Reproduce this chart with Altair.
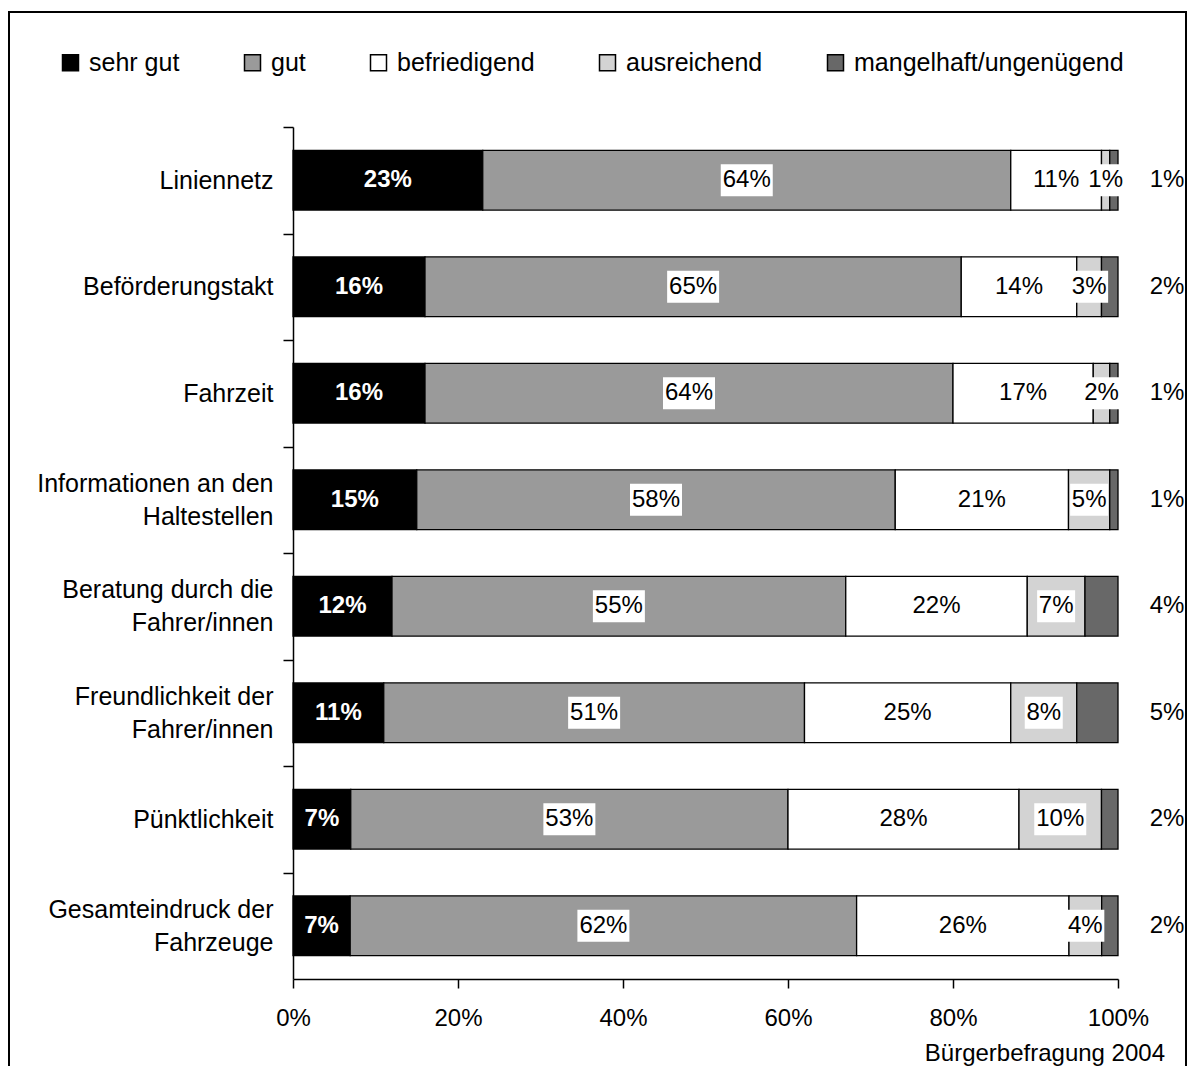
import altair as alt
import pandas as pd

# ---------------- data ----------------
categories = [
    ["Liniennetz"],
    ["Beförderungstakt"],
    ["Fahrzeit"],
    ["Informationen an den", "Haltestellen"],
    ["Beratung durch die", "Fahrer/innen"],
    ["Freundlichkeit der", "Fahrer/innen"],
    ["Pünktlichkeit"],
    ["Gesamteindruck der", "Fahrzeuge"],
]
ratings = ["sehr gut", "gut", "befriedigend", "ausreichend", "mangelhaft/ungenügend"]

sehr_gut = [23, 16, 16, 15, 12, 11, 7, 7]
gut = [64, 65, 64, 58, 55, 51, 53, 62]
befriedigend = [11, 14, 17, 21, 22, 25, 28, 26]
ausreichend = [1, 3, 2, 5, 7, 8, 10, 4]
mangelhaft = [1, 2, 1, 1, 4, 5, 2, 2]

x_ticks = [0, 20, 40, 60, 80, 100]
source_note = "Bürgerbefragung 2004"

colors = ["#000000", "#9a9a9a", "#ffffff", "#d3d3d3", "#686868"]

# ---------------- layout helpers ----------------
FONT = "Liberation Sans"
ARIAL = {
    " ": 278, "\u00a0": 278, "/": 278, "a": 556, "b": 556, "c": 500, "d": 556, "e": 556,
    "f": 278, "g": 556, "h": 556, "i": 222, "k": 500, "l": 222, "m": 833,
    "n": 556, "o": 556, "r": 333, "s": 500, "t": 278, "u": 556, "z": 500,
    "ü": 556, "ö": 556, "B": 667, "F": 611, "G": 778, "H": 722, "I": 278,
    "L": 556, "P": 667,
}


def text_w(s):
    return sum(ARIAL.get(c, 556) for c in s)


def make_label(lines):
    # Excel centres the lines of a wrapped label; pad the shorter line
    if len(lines) == 1:
        return lines[0]
    first, second = lines
    pad = round((text_w(first) - text_w(second)) / 2 / 278)
    return first + "\n" + second + "\u00a0" * max(pad, 0)


cat_labels = [make_label(c) for c in categories]
series = [sehr_gut, gut, befriedigend, ausreichend, mangelhaft]

rows = []
for i, cat in enumerate(cat_labels):
    for j, r in enumerate(ratings):
        rows.append({"cat": cat, "rating": r, "rank": j, "value": series[j][i]})
df = pd.DataFrame(rows)

W, H = 825, 852
step = H / len(cat_labels)
LINE_H = 33

base = (
    alt.Chart(df)
    .transform_joinaggregate(total="sum(value)", groupby=["cat"])
    .transform_calculate(pct="datum.value / datum.total * 100")
    .transform_stack(stack="pct", groupby=["cat"], sort=[alt.SortField("rank", order="ascending")], as_=["x0", "x1"])
    .transform_calculate(mid="(datum.x0 + datum.x1) / 2", lbl="datum.value + '%'")
)

y_enc = alt.Y(
    "cat:N",
    sort=cat_labels,
    scale=alt.Scale(paddingInner=0.44, paddingOuter=0.22),
    axis=alt.Axis(
        title=None,
        labelExpr="split(datum.label, '\\n')",
        labelFontSize=25,
        labelLineHeight=LINE_H,
        labelPadding=10,
        labelLimit=400,
        tickSize=10,
        tickOffset=-step / 2,
        labelOffset={
            "condition": {"test": "indexof(datum.value, '\\n') >= 0", "value": step / 2 - LINE_H / 2},
            "value": step / 2,
        },
        labelAlign="right",
        labelBaseline="middle",
    ),
)

x_scale = alt.Scale(domain=[0, 100], nice=False)

bars = base.mark_bar(stroke="black", strokeWidth=1.3).encode(
    x=alt.X(
        "x0:Q",
        scale=x_scale,
        axis=alt.Axis(
            title=None,
            values=x_ticks,
            labelExpr="datum.value + '%'",
            labelFontSize=24,
            tickSize=9,
            labelPadding=18,
            labelFlush=False,
        ),
    ),
    x2="x1:Q",
    y=y_enc,
    color=alt.Color(
        "rating:N",
        scale=alt.Scale(domain=ratings, range=colors),
        legend=alt.Legend(title=None),
    ),
    order=alt.Order("rank:Q"),
)

boxes = (
    base.transform_filter("datum.rank == 1 || datum.rank == 3")
    .transform_calculate(
        boxshape="length(datum.lbl) > 2 ? 'M-1,-0.615H1V0.615H-1Z' : 'M-1,-0.842H1V0.842H-1Z'",
        boxsize="length(datum.lbl) > 2 ? 2704 : 1444",
    )
    .mark_point(filled=True, color="white", opacity=1, strokeWidth=0)
    .encode(
        x=alt.X("mid:Q", scale=x_scale),
        y=alt.Y("cat:N", sort=cat_labels),
        shape=alt.Shape("boxshape:N", scale=None),
        size=alt.Size("boxsize:Q", scale=None),
    )
)

t_sg = (
    base.transform_filter("datum.rank == 0")
    .mark_text(color="white", fontWeight="bold", fontSize=24, baseline="middle")
    .encode(x=alt.X("mid:Q", scale=x_scale), y=alt.Y("cat:N", sort=cat_labels), text="lbl:N")
)

t_mid = (
    base.transform_filter("datum.rank >= 1 && datum.rank <= 3")
    .mark_text(color="black", fontSize=24, baseline="middle")
    .encode(x=alt.X("mid:Q", scale=x_scale), y=alt.Y("cat:N", sort=cat_labels), text="lbl:N")
)

t_out = (
    base.transform_filter("datum.rank == 4")
    .mark_text(color="black", fontSize=24, baseline="middle", dx=49)
    .encode(x=alt.datum(100), y=alt.Y("cat:N", sort=cat_labels), text="lbl:N")
)

frame = (
    alt.Chart(pd.DataFrame({"f": [0]}))
    .mark_rect(fill="transparent", stroke="black", strokeWidth=2)
    .encode(x=alt.value(-284), x2=alt.value(893), y=alt.value(-115), y2=alt.value(1000))
)

note = (
    alt.Chart(pd.DataFrame({"t": [source_note]}))
    .mark_text(align="right", baseline="alphabetic", fontSize=24, color="black")
    .encode(x=alt.value(872), y=alt.value(934), text="t:N")
)

chart = (
    alt.layer(frame, bars, boxes, t_sg, t_mid, t_out, note)
    .properties(
        width=W,
        height=H,
        autosize=alt.AutoSizeParams(type="none"),
        padding={"left": 285, "top": 119, "right": 69, "bottom": 87},
        background="white",
    )
    .configure(font=FONT)
    .configure_view(stroke=None)
    .configure_axis(
        domainColor="black",
        tickColor="black",
        labelColor="black",
        domainWidth=1.5,
        tickWidth=1.5,
        grid=False,
        labelFont=FONT,
    )
    .configure_legend(
        orient="none",
        legendX=-235,
        legendY=-77,
        direction="horizontal",
        symbolType="square",
        symbolSize=256,
        symbolStrokeColor="black",
        symbolStrokeWidth=1.5,
        symbolOpacity=1,
        labelFontSize=25,
        labelFont=FONT,
        labelColor="black",
        labelOffset=6,
        labelLimit=400,
        columnPadding=60,
        padding=0,
    )
)

chart.save("out.html", embed_options={"renderer": "svg", "actions": False})
